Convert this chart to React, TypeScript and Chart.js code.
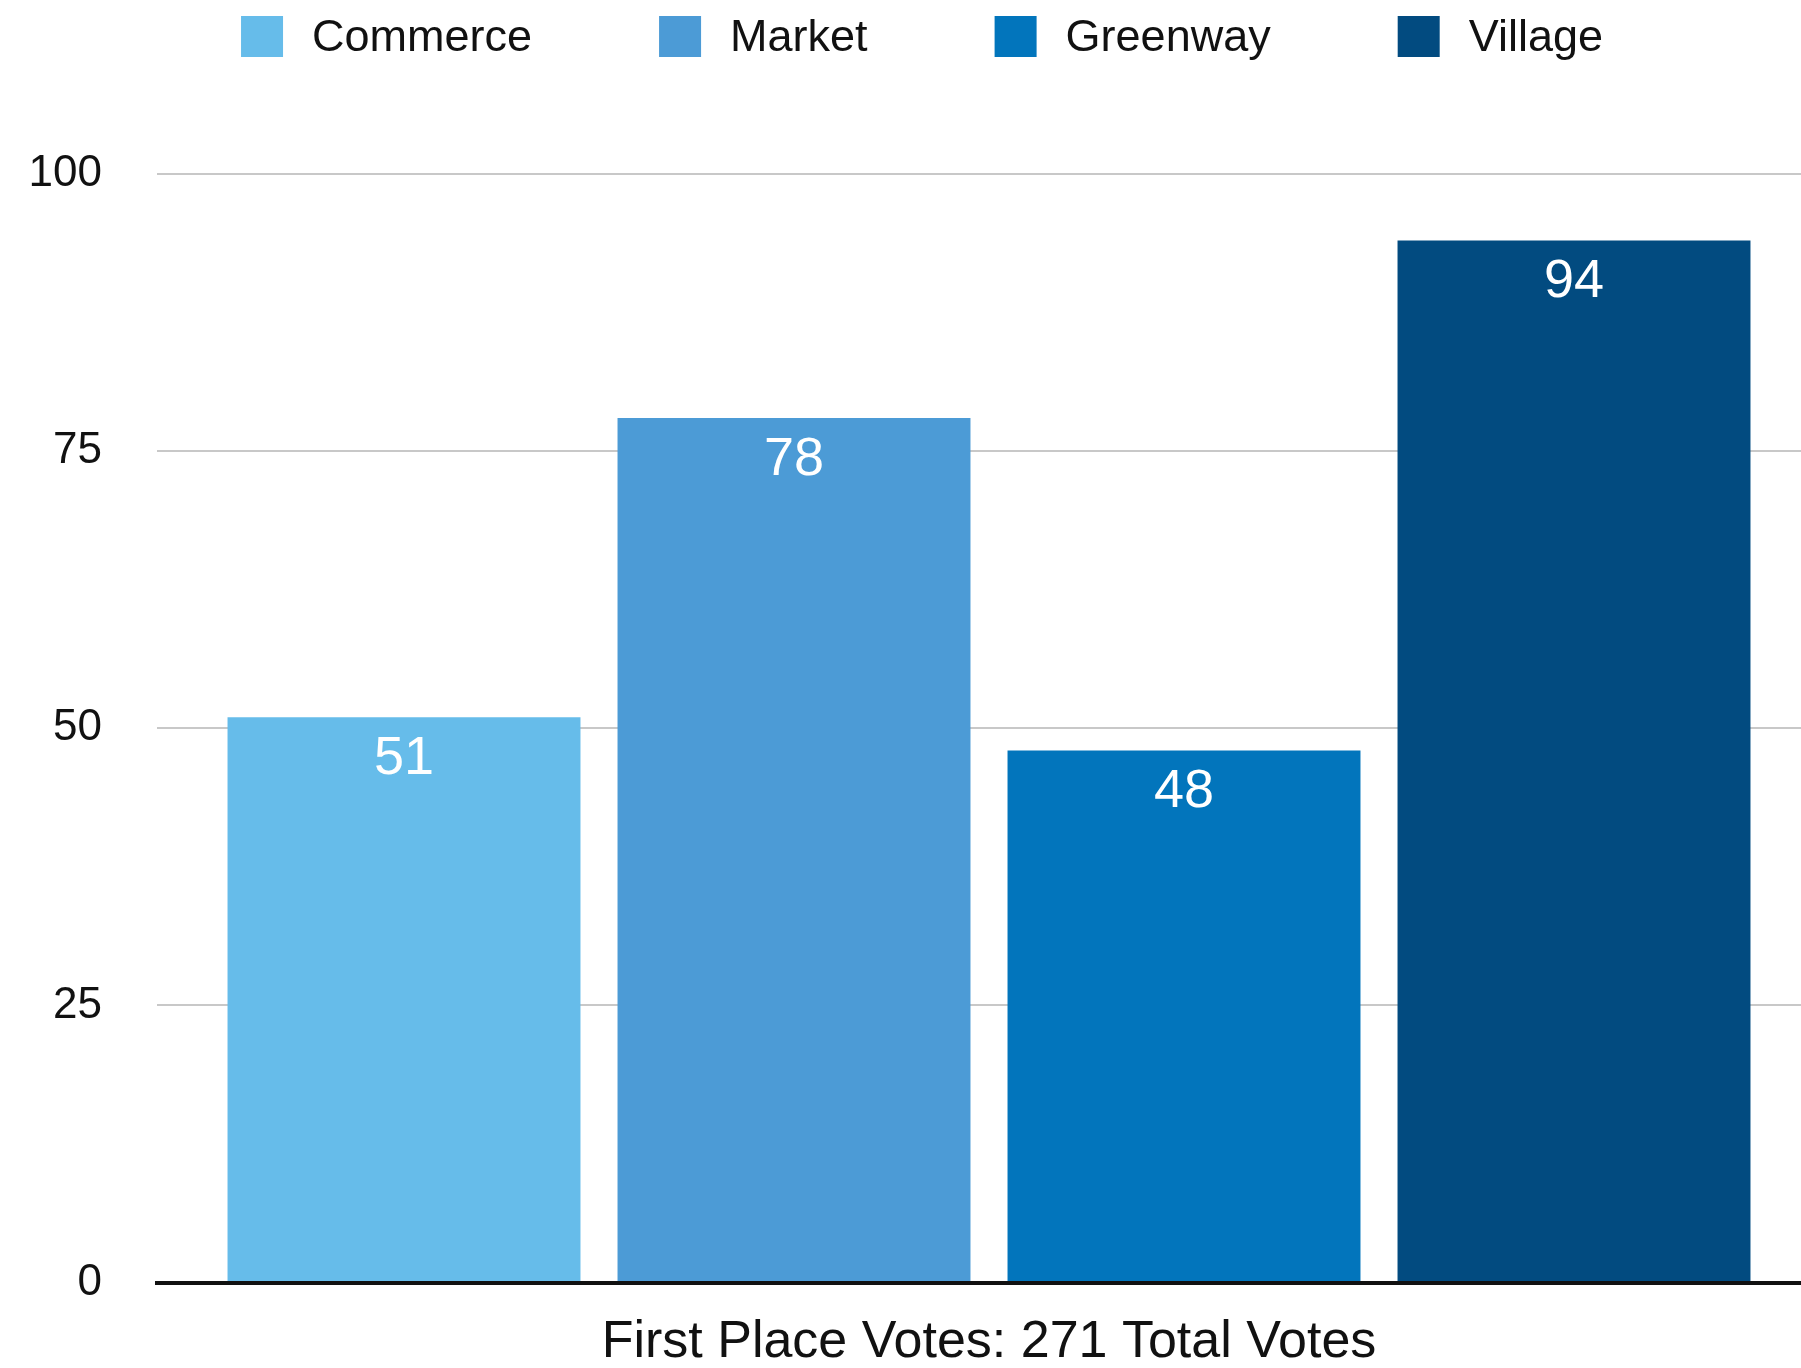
import React, { useEffect, useRef } from 'react';
import { Chart, registerables } from 'chart.js';

Chart.register(...registerables);

// ---- data ----
const categories = ['First Place Votes: 271 Total Votes'];
const seriesNames = ['Commerce', 'Market', 'Greenway', 'Village'];
const commerceVotes = [51];
const marketVotes = [78];
const greenwayVotes = [48];
const villageVotes = [94];
const seriesColors = ['#66BCEA', '#4C9BD6', '#0275BC', '#024B80'];
const yTickValues = [0, 25, 50, 75, 100];

const FONT = "'Liberation Sans', Arial, Helvetica, sans-serif";

const legendPlugin = {
  id: 'customLegend',
  afterDraw(chart: any, _args: any, opts: any) {
    const ctx = chart.ctx;
    ctx.save();
    ctx.font = `45px ${FONT}`;
    ctx.textBaseline = 'middle';
    ctx.textAlign = 'left';
    const boxW = 42;
    const boxH = 41;
    const gapText = 29;
    const gapItem = 127;
    const items = chart.data.datasets.map((d: any) => ({
      text: d.label,
      color: d.backgroundColor,
      w: boxW + gapText + ctx.measureText(d.label).width,
    }));
    const total = items.reduce((s: number, it: any) => s + it.w, 0) + gapItem * (items.length - 1);
    let x = opts.centerX - total / 2;
    const top = opts.top;
    items.forEach((it: any) => {
      ctx.fillStyle = it.color;
      ctx.fillRect(x, top, boxW, boxH);
      ctx.fillStyle = '#111111';
      ctx.fillText(it.text, x + boxW + gapText, top + boxH / 2 + 2);
      x += it.w + gapItem;
    });
    ctx.restore();
  },
};

const valueLabelPlugin = {
  id: 'valueLabels',
  afterDatasetsDraw(chart: any) {
    const ctx = chart.ctx;
    ctx.save();
    ctx.font = `54px ${FONT}`;
    ctx.fillStyle = '#ffffff';
    ctx.textAlign = 'center';
    ctx.textBaseline = 'middle';
    chart.data.datasets.forEach((ds: any, i: number) => {
      const meta = chart.getDatasetMeta(i);
      meta.data.forEach((el: any, j: number) => {
        ctx.fillText(String(ds.data[j]), el.x, el.y + 42);
      });
    });
    ctx.restore();
  },
};

export default function App() {
  const canvasRef = useRef<HTMLCanvasElement | null>(null);

  useEffect(() => {
    const canvas = canvasRef.current;
    if (!canvas) return;
    const seriesValues = [commerceVotes, marketVotes, greenwayVotes, villageVotes];
    const chart = new Chart(canvas, {
      type: 'bar',
      data: {
        labels: categories,
        datasets: seriesNames.map((name, i) => ({
          label: name,
          data: seriesValues[i],
          backgroundColor: seriesColors[i],
          borderWidth: 0,
          categoryPercentage: 0.9375,
          barPercentage: 0.905,
        })),
      },
      options: {
        responsive: false,
        animation: false,
        devicePixelRatio: 1,
        layout: { padding: { top: 174, left: 0, right: 9, bottom: -35 } },
        plugins: {
          legend: { display: false },
          tooltip: { enabled: false },
          customLegend: { centerX: 922, top: 16 },
        } as any,
        scales: {
          x: {
            grid: { display: false, drawTicks: false },
            border: { display: true, color: '#111111', width: 4, z: 1 } as any,
            ticks: { color: '#111111', font: { size: 52, family: FONT }, padding: 29 },
          },
          y: {
            min: 0,
            max: 100,
            afterFit: (s: any) => {
              s.width = 157;
            },
            afterBuildTicks: (s: any) => {
              s.ticks = yTickValues.map((v) => ({ value: v }));
            },
            ticks: {
              stepSize: 25,
              padding: 55,
              color: '#111111',
              font: { size: 44, family: FONT },
            },
            grid: {
              color: (c: any) => (c.tick && c.tick.value === 0 ? 'rgba(0,0,0,0)' : '#C8C8C8'),
              lineWidth: 2,
              drawTicks: false,
            },
            border: { display: false },
          },
        },
      },
      plugins: [legendPlugin, valueLabelPlugin],
    });
    return () => chart.destroy();
  }, []);

  return (
    <div
      style={{
        position: 'fixed',
        left: 0,
        top: 0,
        width: '100vw',
        height: '100vh',
        overflow: 'hidden',
        background: '#ffffff',
      }}
    >
      <canvas
        ref={canvasRef}
        width={1830}
        height={1368}
        style={{ display: 'block', width: 1830, height: 1368 }}
      />
    </div>
  );
}
